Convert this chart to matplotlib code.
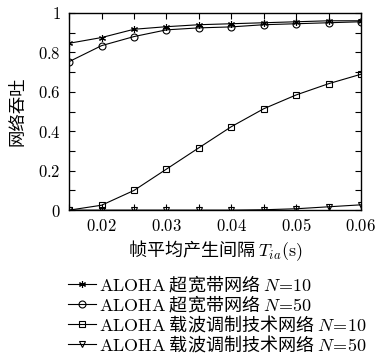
import matplotlib.pyplot as plt
from matplotlib.ticker import MultipleLocator

plt.rcParams['mathtext.fontset'] = 'cm'
plt.rcParams['font.family'] = ['DejaVu Serif', 'Noto Sans CJK SC']

# data
t_ia = [0.015, 0.02, 0.025, 0.03, 0.035, 0.04, 0.045, 0.05, 0.055, 0.06]
uwb_n10 = [0.846, 0.875, 0.917, 0.930, 0.940, 0.945, 0.950, 0.955, 0.960, 0.960]
uwb_n50 = [0.753, 0.834, 0.880, 0.914, 0.924, 0.929, 0.940, 0.945, 0.950, 0.955]
cm_n10 = [0.0, 0.025, 0.100, 0.208, 0.316, 0.423, 0.514, 0.584, 0.641, 0.689]
cm_n50 = [0.0, 0.0, 0.0, 0.0, 0.0, 0.0, 0.002, 0.007, 0.017, 0.027]

labels = [r'$\mathrm{ALOHA}$ 超宽带网络 $N\!=\!10$',
          r'$\mathrm{ALOHA}$ 超宽带网络 $N\!=\!50$',
          r'$\mathrm{ALOHA}$ 载波调制技术网络 $N\!=\!10$',
          r'$\mathrm{ALOHA}$ 载波调制技术网络 $N\!=\!50$']
xticks = [0.02, 0.03, 0.04, 0.05, 0.06]
yticks = [0, 0.2, 0.4, 0.6, 0.8, 1]

fig = plt.figure(figsize=(3.78, 3.58), dpi=100)
ax = fig.add_axes([0.183, 0.413, 0.772, 0.551])

kw = dict(color='black', lw=0.8, markersize=5, markerfacecolor='none', markeredgewidth=0.8)
ax.plot(t_ia, uwb_n10, marker=(6, 2, 0), label=labels[0], **kw)
ax.plot(t_ia, uwb_n50, marker='o', label=labels[1], **kw)
ax.plot(t_ia, cm_n10, marker='s', label=labels[2], **kw)
ax.plot(t_ia, cm_n50, marker='v', label=labels[3], **kw)

ax.set_xlim(0.015, 0.06)
ax.set_ylim(0, 1)
ax.set_xticks(xticks)
ax.set_xticklabels(['$%g$' % v for v in xticks], fontsize=12)
ax.set_yticks(yticks)
ax.set_yticklabels(['$%g$' % v for v in yticks], fontsize=12)
ax.xaxis.set_minor_locator(MultipleLocator(0.005))
ax.yaxis.set_minor_locator(MultipleLocator(0.1))
ax.tick_params(which='both', direction='in', top=True, right=True, width=0.8)
ax.tick_params(which='major', length=4, pad=6)
ax.tick_params(which='minor', length=4)
for s in ax.spines.values():
    s.set_linewidth(1.0)

# non-math parts of a mathtext string use the text's own family, so CJK goes first
ax.set_xlabel(r'帧平均产生间隔 $T_{ia}\mathrm{(s)}$', fontsize=13, labelpad=2,
              fontfamily='Noto Sans CJK SC')
ax.set_ylabel('网络吞吐', fontsize=12.5, labelpad=8, fontfamily='Noto Sans CJK SC')

fig.legend(loc='upper left', bbox_to_anchor=(0.181, 0.236), frameon=False,
           prop={'family': 'Noto Sans CJK SC', 'size': 13},
           handlelength=1.5, handletextpad=0.2, labelspacing=-0.05,
           borderpad=0, borderaxespad=0)

fig.savefig('out.png', dpi=100)
